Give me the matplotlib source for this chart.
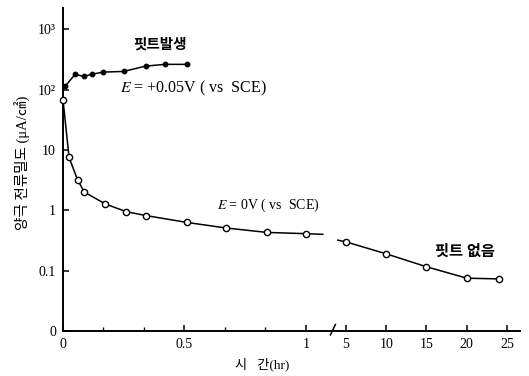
import numpy as np
import matplotlib
matplotlib.use("Agg")
import matplotlib.pyplot as plt
from matplotlib.transforms import blended_transform_factory

plt.rcParams['font.family'] = ['Liberation Serif', 'Noto Sans CJK KR', 'DejaVu Sans']
plt.rcParams['mathtext.fontset'] = 'stix'

# ---- data ----
# E = +0.05 V (pitting), filled dots
pit_t = [0.01, 0.05, 0.085, 0.12, 0.165, 0.25, 0.34, 0.42, 0.51]
pit_v = [115, 180, 165, 180, 195, 200, 245, 262, 262]

# E = 0 V, open circles, short-time segment (hr)
e0_left_t = [0.0, 0.025, 0.06, 0.088, 0.175, 0.26, 0.34, 0.51, 0.67, 0.84, 1.0]
e0_left_v = [68, 7.5, 3.2, 2.0, 1.27, 0.95, 0.82, 0.63, 0.51, 0.43, 0.41]
# line stubs at the axis break
stub_left_t = [1.0, 1.07]
stub_left_v = [0.41, 0.40]
stub_right_t = [3.0, 5.0]
stub_right_v = [0.32, 0.30]
# long-time segment (hr)
e0_right_t = [5, 10, 15, 20, 24]
e0_right_v = [0.30, 0.19, 0.116, 0.075, 0.073]

xticks = [0, 0.5, 1, 5, 10, 15, 20, 25]
xticklabels = ['0', '0.5', '1', '5', '10', '15', '20', '25']
xminor = [1/6, 2/6, 4/6, 5/6]
yticks = [0.01, 0.1, 1, 10, 100, 1000]
yticklabels = ['0', '0.1', '1', '10', '10²', '10³']

# broken time axis: piecewise linear scale
T_BRK = [-1.0, 0.0, 1.1, 5.0, 40.0]
X_BRK = [-1.0, 0.0, 1.1, 1.165, 1.165 + 35 * 0.0332]

def fwd(t):
    return np.interp(t, T_BRK, X_BRK)

def inv(x):
    return np.interp(x, X_BRK, T_BRK)

fig = plt.figure(figsize=(5.29, 3.76), dpi=100)
ax = fig.add_axes([63/529, 1 - 331/376, (520 - 63)/529, (331 - 8)/376])
ax.set_xscale('function', functions=(fwd, inv))
ax.set_yscale('log')
ax.set_xlim(0, 26.6)
ax.set_ylim(0.01, 2250)

lc = 'black'
ax.plot(pit_t, pit_v, '-', color=lc, lw=1.1, marker='o', ms=3.2, mfc=lc, mec=lc)
ax.plot(e0_left_t, e0_left_v, '-', color=lc, lw=1.1, marker='o', ms=4.5,
        mfc='white', mec=lc, mew=1.0, clip_on=False, zorder=3)
ax.plot(stub_left_t, stub_left_v, '-', color=lc, lw=1.1)
ax.plot(stub_right_t, stub_right_v, '-', color=lc, lw=1.1)
ax.plot(e0_right_t, e0_right_v, '-', color=lc, lw=1.1, marker='o', ms=4.5,
        mfc='white', mec=lc, mew=1.0, zorder=3)

for s in ['top', 'right']:
    ax.spines[s].set_visible(False)
for s in ['left', 'bottom']:
    ax.spines[s].set_linewidth(1.4)

ax.set_xticks(xticks)
ax.set_xticklabels(xticklabels)
ax.set_xticks(xminor, minor=True)
ax.set_yticks(yticks)
ax.set_yticklabels(yticklabels)
ax.yaxis.set_minor_locator(matplotlib.ticker.NullLocator())
ax.tick_params(axis='both', which='major', direction='in', length=4, width=1.1,
               labelsize=10, pad=5)
ax.tick_params(axis='x', which='minor', direction='in', length=3, width=1.0)

# break mark on x axis
tr = blended_transform_factory(ax.transData, ax.transAxes)
ax.plot([1.2, 2.4], [-0.012, 0.02], color=lc, lw=1.1, transform=tr, clip_on=False)

# annotations
ax.text(0.40, 550, '핏트발생', fontsize=10.5, fontweight='bold', ha='center', va='center')
ax.text(0.235, 106, r'$E$ = +0.05V ( vs  SCE)', fontsize=11.5, ha='left', va='center')
ax.text(0.636, 1.22, r'$E$ = 0V ( vs  SCE)', fontsize=10, ha='left', va='center')
ax.text(16.0, 0.204, '핏트 없음', fontsize=11, fontweight='bold', ha='left', va='center')

fig.text(23/529, 1 - 163/376, '양극 전류밀도 (μA/㎠)', rotation=90, fontsize=10.5,
         ha='center', va='center')
fig.text(262/529, 1 - 364/376, '시   간(hr)', fontsize=9.5, ha='center', va='center')

fig.savefig('out.png', dpi=100)
